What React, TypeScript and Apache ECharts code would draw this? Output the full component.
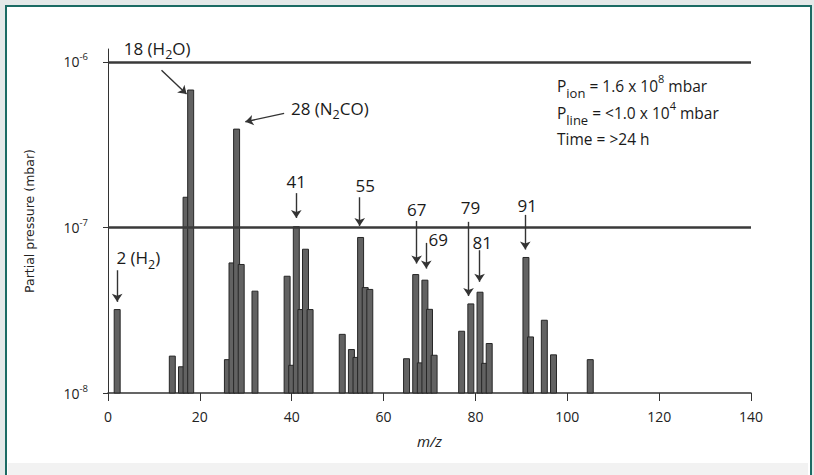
import React, { useEffect, useRef } from 'react';
import * as echarts from 'echarts';

// m/z positions of the peaks and their partial pressures (mbar)
const MZ = [2, 14, 16, 17, 18, 26, 27, 28, 29, 32, 39, 40, 41, 42, 43, 44, 51, 53, 54, 55, 56, 57, 65, 67, 68, 69, 70, 71, 77, 79, 81, 82, 83, 91, 92, 95, 97, 105];
const PRESSURE = [
  3.19e-8, 1.67e-8, 1.44e-8, 1.52e-7, 6.75e-7, 1.59e-8, 6.1e-8, 3.92e-7, 5.97e-8, 4.12e-8,
  5.07e-8, 1.47e-8, 1.01e-7, 3.19e-8, 7.38e-8, 3.19e-8, 2.26e-8, 1.83e-8, 1.64e-8, 8.69e-8,
  4.33e-8, 4.22e-8, 1.61e-8, 5.19e-8, 1.52e-8, 4.8e-8, 3.2e-8, 1.69e-8, 2.36e-8, 3.45e-8,
  4.06e-8, 1.51e-8, 1.99e-8, 6.58e-8, 2.18e-8, 2.75e-8, 1.7e-8, 1.59e-8,
];

const Y_TICKS = [1e-8, 1e-7, 1e-6];
const REF_LINES = [1e-6, 1e-7];

// peak annotations (text, anchor m/z, anchor pressure)
const LABEL_TEXTS = ['2 (H{sub|2})', '18 (H{sub|2}O)', '28 (N{sub|2}CO)', '41', '55', '67', '69', '79', '81', '91'];
const LABEL_MZ = [6.6, 10.7, 48.3, 41, 56, 67.2, 71.9, 78.9, 81.5, 91.3];
const LABEL_P = [6.54e-8, 1.21e-6, 5.25e-7, 1.9e-7, 1.8e-7, 1.29e-7, 8.48e-8, 1.31e-7, 8.14e-8, 1.36e-7];

// arrows: [from m/z, from pressure, to m/z, to pressure]
const ARROWS = [
  [2.0, 5.51e-8, 2.0, 3.55e-8],
  [11.65, 8.9e-7, 17.1, 6.38e-7],
  [38.35, 4.88e-7, 29.9, 4.34e-7],
  [41.0, 1.61e-7, 41.0, 1.14e-7],
  [54.8, 1.52e-7, 54.8, 1.02e-7],
  [67.2, 1.094e-7, 67.2, 6.05e-8],
  [69.3, 8.06e-8, 69.3, 5.64e-8],
  [78.5, 1.08e-7, 78.5, 3.85e-8],
  [80.9, 7.28e-8, 80.9, 4.69e-8],
  [90.85, 1.19e-7, 90.85, 7.35e-8],
];

const INFO_LINES = [
  'P{sub|ion} = 1.6 x 10{sup|8} mbar',
  'P{sub|line} = <1.0 x 10{sup|4} mbar',
  'Time = >24 h',
];

const FONT = 'Open Sans';
const X_MIN = 0;
const X_MAX = 140;
const Y_MIN = 1e-8;
const Y_MAX = 1.194e-6;

export default function App() {
  const ref = useRef<HTMLDivElement>(null);

  useEffect(() => {
    if (!ref.current) return;
    const chart = echarts.init(ref.current, null, { renderer: 'svg' });

    const barData = MZ.map((m, i) => [m, PRESSURE[i]]);

    const refLineItems = REF_LINES.map((y) => [
      { coord: [X_MIN, y], symbol: 'none', lineStyle: { color: '#3a3a3a', width: 2.6, type: 'solid' } },
      { coord: [X_MAX, y], symbol: 'none' },
    ]);
    const arrowItems = ARROWS.map((a) => [
      { coord: [a[0], a[1]], symbol: 'none' },
      { coord: [a[2], a[3]], symbol: 'arrow' },
    ]);

    const option: any = {
      animation: false,
      grid: { left: 108, right: 63, top: 49, bottom: 82 },
      xAxis: {
        type: 'value',
        min: X_MIN,
        max: X_MAX,
        interval: 20,
        name: 'm/z',
        nameLocation: 'middle',
        nameGap: 40,
        nameTextStyle: { fontFamily: FONT, fontStyle: 'italic', fontSize: 15, color: '#222' },
        axisLine: { show: true, onZero: false, lineStyle: { color: '#333', width: 1.5 } },
        axisTick: { show: true, length: 8, lineStyle: { color: '#333', width: 1 } },
        axisLabel: { margin: 16, fontSize: 14, color: '#222', fontFamily: FONT },
        splitLine: { show: false },
      },
      yAxis: {
        type: 'log',
        logBase: 10,
        min: Y_MIN,
        max: Y_MAX,
        name: 'Partial pressure (mbar)',
        nameLocation: 'middle',
        nameRotate: 90,
        nameGap: 72,
        nameTextStyle: { fontFamily: 'DejaVu Sans', fontSize: 12.5, color: '#222' },
        axisLine: { show: true, lineStyle: { color: '#333', width: 1 } },
        axisTick: { show: true, length: 5, customValues: Y_TICKS, lineStyle: { color: '#333' } },
        axisLabel: {
          customValues: Y_TICKS,
          margin: 20,
          formatter: (v: number) => `{b|10}{s|${Math.round(Math.log10(v))}}`,
          rich: {
            b: { fontSize: 14, lineHeight: 20, fontFamily: FONT, color: '#222' },
            s: { fontSize: 9.5, lineHeight: 12, verticalAlign: 'top', fontFamily: FONT, color: '#222' },
          },
        },
        splitLine: { show: false },
      },
      graphic: [
        {
          type: 'text',
          x: 557,
          y: 73,
          style: {
            text: INFO_LINES.join('\n'),
            fontFamily: FONT,
            fontSize: 15.5,
            lineHeight: 26.5,
            fill: '#1a1a1a',
            verticalAlign: 'top',
            rich: {
              sub: { fontSize: 13, lineHeight: 13, verticalAlign: 'bottom', fontFamily: FONT, fill: '#1a1a1a' },
              sup: { fontSize: 11, lineHeight: 18, verticalAlign: 'top', fontFamily: FONT, fill: '#1a1a1a' },
            },
          },
        },
      ],
      series: [
        {
          type: 'custom',
          data: barData,
          renderItem: (params: any, api: any) => {
            const x = api.value(0);
            const v = api.value(1);
            const top = api.coord([x, v]);
            const base = api.coord([x, Y_MIN]);
            const w = api.size([1.3, 0])[0];
            return {
              type: 'rect',
              shape: { x: top[0] - w / 2, y: top[1], width: w, height: base[1] - top[1] },
              style: { fill: '#626262', stroke: '#262626', lineWidth: 1 },
            };
          },
          z: 2,
        },
        {
          type: 'scatter',
          symbolSize: 0,
          clip: false,
          silent: true,
          itemStyle: { opacity: 1 },
          data: LABEL_TEXTS.map((t, i) => ({ value: [LABEL_MZ[i], LABEL_P[i]], label: { formatter: t } })),
          label: {
            show: true,
            position: 'inside',
            opacity: 1,
            fontFamily: FONT,
            fontSize: 17,
            lineHeight: 26,
            color: '#1a1a1a',
            textBorderWidth: 0,
            textBorderColor: 'transparent',
            rich: {
              sub: { fontSize: 12.5, lineHeight: 12, verticalAlign: 'bottom', fontFamily: FONT, color: '#1a1a1a', textBorderWidth: 0 },
            },
          },
          markLine: {
            silent: true,
            symbol: ['none', 'arrow'],
            symbolSize: 8,
            label: { show: false },
            lineStyle: { color: '#333', width: 1.4, type: 'solid', opacity: 1 },
            data: [...refLineItems, ...arrowItems],
          },
          z: 3,
        },
      ],
    };

    chart.setOption(option);
    return () => chart.dispose();
  }, []);

  return (
    <div style={{ position: 'fixed', left: 0, top: 0, width: 814, height: 475, background: '#e4e9e9', overflow: 'hidden' }}>
      <div style={{ position: 'absolute', left: 5, top: 5, width: 803, height: 480, border: '2.5px solid #1b6b64', background: '#ffffff' }} />
      <div style={{ position: 'absolute', left: 8, top: 463, width: 800, height: 20, background: '#f2f2f2' }} />
      <div ref={ref} style={{ position: 'absolute', left: 0, top: 0, width: 814, height: 475 }} />
    </div>
  );
}
